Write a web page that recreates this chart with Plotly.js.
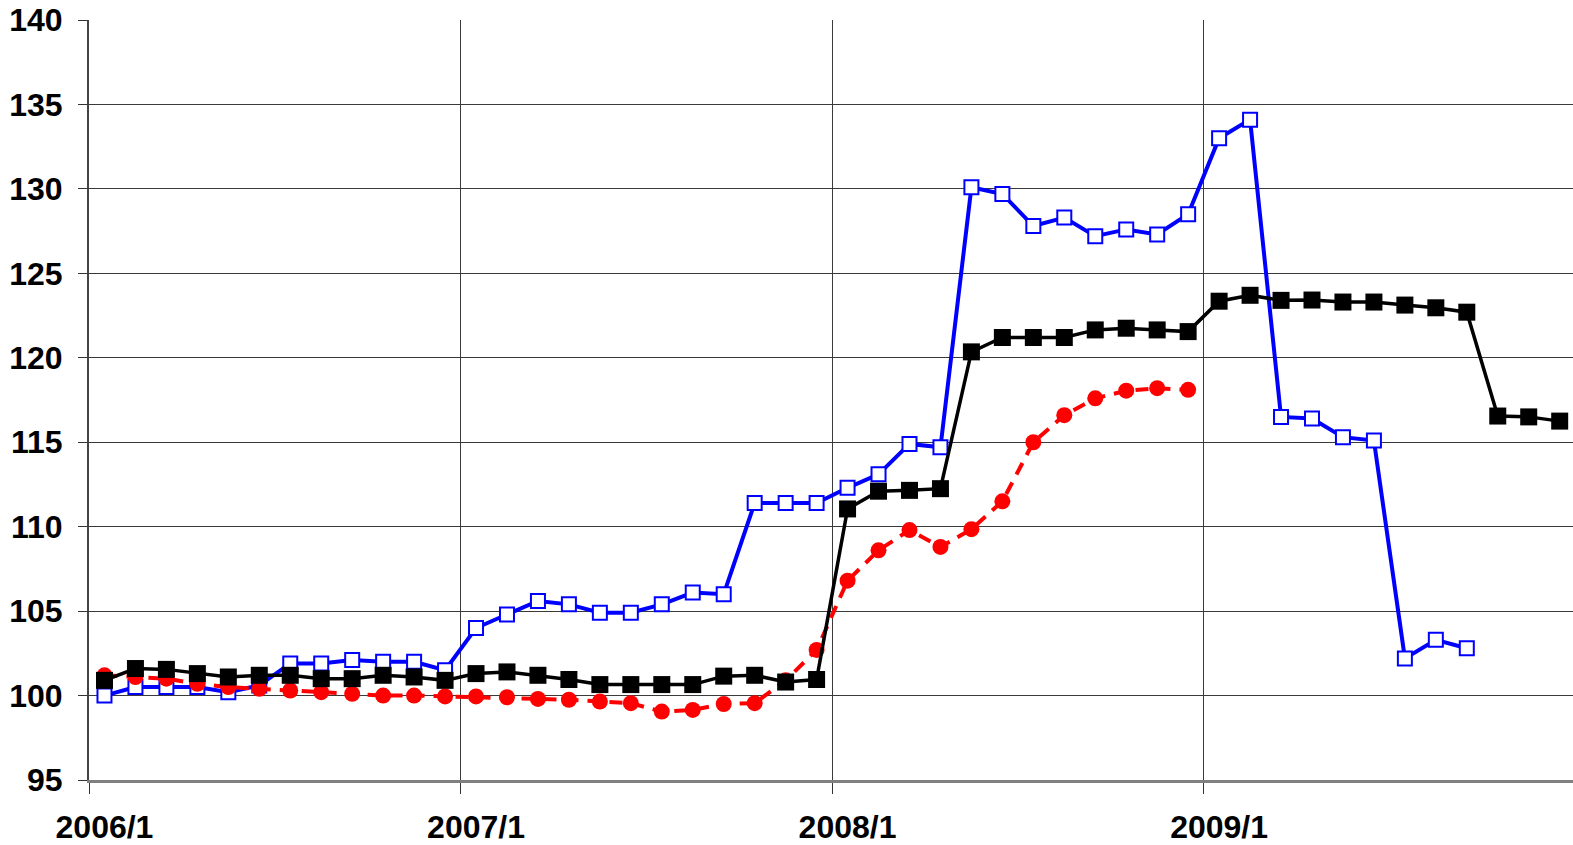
<!DOCTYPE html>
<html>
<head>
<meta charset="utf-8">
<script src="https://cdn.plot.ly/plotly-3.0.1.min.js"></script>
<style>html,body{margin:0;padding:0;background:#fff;}#chart{width:1573px;height:845px;}</style>
</head>
<body>
<div id="chart"></div>
<script>
// Month index 0 = 2006/1 ... 47 = 2009/12
const yearLabels = ["2006/1", "2007/1", "2008/1", "2009/1"];

const blueSeries = [
  100.0, 100.5, 100.5, 100.5, 100.2, 100.6, 101.9, 101.9, 102.1, 102.0, 102.0, 101.5,
  104.0, 104.8, 105.6, 105.4, 104.9, 104.9, 105.4, 106.1, 106.0, 111.4, 111.4, 111.4,
  112.3, 113.1, 114.9, 114.7, 130.1, 129.7, 127.8, 128.3, 127.2, 127.6, 127.3, 128.5,
  133.0, 134.1, 116.5, 116.4, 115.3, 115.1, 102.2, 103.3, 102.8
];

const redSeries = [
  101.2, 101.1, 101.0, 100.7, 100.5, 100.4, 100.3, 100.2, 100.1, 100.0, 100.0, 99.95,
  99.95, 99.9, 99.8, 99.75, 99.65, 99.55, 99.05, 99.15, 99.5, 99.55, 100.9, 102.7,
  106.8, 108.6, 109.8, 108.8, 109.85, 111.5, 115.0, 116.6, 117.6, 118.05, 118.2, 118.1
];

const blackSeries = [
  100.9, 101.6, 101.55, 101.3, 101.1, 101.2, 101.2, 101.0, 101.0, 101.2, 101.1, 100.9,
  101.3, 101.4, 101.2, 100.95, 100.65, 100.65, 100.65, 100.65, 101.15, 101.2, 100.8, 100.95,
  111.05, 112.1, 112.15, 112.25, 120.35, 121.2, 121.2, 121.2, 121.65, 121.75, 121.65, 121.55,
  123.35, 123.7, 123.4, 123.42, 123.3, 123.3, 123.12, 122.96, 122.7, 116.55, 116.5, 116.25
];

const xs = arr => arr.map((_, i) => i + 0.5);
const FONT = "Liberation Sans, Arial, sans-serif";

const traces = [
  {
    x: xs(blueSeries), y: blueSeries, type: "scatter", mode: "lines+markers",
    line: {color: "#0000FF", width: 4},
    marker: {symbol: "square", size: 14, color: "#FFFFFF", line: {color: "#0000FF", width: 2}},
    hoverinfo: "skip", showlegend: false
  },
  {
    x: xs(redSeries), y: redSeries, type: "scatter", mode: "lines+markers",
    line: {color: "#FF0000", width: 4, dash: "13px,9px"},
    marker: {symbol: "circle", size: 16, color: "#FF0000"},
    hoverinfo: "skip", showlegend: false
  },
  {
    x: xs(blackSeries), y: blackSeries, type: "scatter", mode: "lines+markers",
    line: {color: "#000000", width: 3.5},
    marker: {symbol: "square", size: 17, color: "#000000"},
    hoverinfo: "skip", showlegend: false
  },
  {
    x: [0.5], y: [100], xaxis: "x2", type: "scatter", mode: "markers",
    marker: {opacity: 0}, hoverinfo: "skip", showlegend: false
  }
];

const xRange = [0, 47.93];

const layout = {
  width: 1573, height: 845,
  margin: {l: 89, r: 0, t: 20, b: 65},
  paper_bgcolor: "#FFFFFF", plot_bgcolor: "#FFFFFF",
  showlegend: false,
  xaxis: {
    range: xRange, tickmode: "array", tickvals: [0, 12, 24, 36],
    showticklabels: false, ticks: "outside", ticklen: 11, tickcolor: "#333", tickwidth: 1,
    showgrid: true, gridcolor: "#3a3a3a", gridwidth: 1,
    showline: true, linecolor: "#808080", linewidth: 3, zeroline: false
  },
  xaxis2: {
    overlaying: "x", side: "bottom", range: xRange,
    tickmode: "array", tickvals: yearLabels.map((_, k) => k * 12 + 0.5), ticktext: yearLabels,
    ticks: "", showgrid: false, showline: false, zeroline: false,
    ticklabelstandoff: 25,
    tickfont: {family: FONT, size: 32, color: "#000000", weight: "bold"}
  },
  yaxis: {
    range: [95, 140], tickmode: "linear", tick0: 95, dtick: 5,
    ticks: "outside", ticklen: 9, tickcolor: "#333", tickwidth: 1,
    showgrid: true, gridcolor: "#3a3a3a", gridwidth: 1,
    showline: true, linecolor: "#444444", linewidth: 2, zeroline: false,
    ticklabelstandoff: 9,
    tickfont: {family: FONT, size: 32, color: "#000000", weight: "bold"}
  }
};

Plotly.newPlot("chart", traces, layout, {displayModeBar: false, staticPlot: true});
</script>
</body>
</html>
